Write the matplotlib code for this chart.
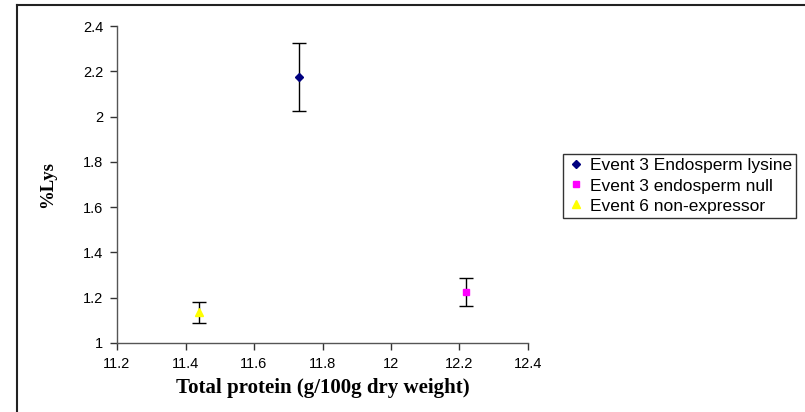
import matplotlib
matplotlib.use("Agg")
import matplotlib.pyplot as plt
from matplotlib.lines import Line2D

series = ["Event 3 Endosperm lysine", "Event 3 endosperm null", "Event 6 non-expressor"]
protein = [11.73, 12.22, 11.44]
lys = [2.175, 1.225, 1.135]
lys_err = [0.15, 0.062, 0.048]
colors = ["#000080", "#FF00FF", "#FFFF00"]
markers = ["D", "s", "^"]
msizes = [4.5, 5, 6]
xticks = [11.2, 11.4, 11.6, 11.8, 12, 12.2, 12.4]
yticks = [1, 1.2, 1.4, 1.6, 1.8, 2, 2.2, 2.4]

fig = plt.figure(figsize=(8.05, 4.12), dpi=100)
ax = fig.add_axes([117/805, 1-343/412, (528-117)/805, (343-26)/412])

for x, y, e, c, m, s, lab in zip(protein, lys, lys_err, colors, markers, msizes, series):
    ax.errorbar([x], [y], yerr=[e], fmt='none', ecolor='black', elinewidth=1.0,
                capsize=5, capthick=1.0, zorder=2)
    ax.plot([x], [y], linestyle='none', marker=m, markersize=s, color=c,
            markeredgecolor=c, label=lab, zorder=3)

ax.set_xlim(11.2, 12.4)
ax.set_ylim(1, 2.4)
ax.set_xticks(xticks)
ax.set_yticks(yticks)
ax.set_xticklabels([f"{v:g}" for v in xticks], fontfamily="Liberation Sans", fontsize=10.5)
ax.set_yticklabels([f"{v:g}" for v in yticks], fontfamily="Liberation Sans", fontsize=10.5)
for s in ["top", "right"]:
    ax.spines[s].set_visible(False)
for s in ["left", "bottom"]:
    ax.spines[s].set_color("#555555")
    ax.spines[s].set_linewidth(1.0)
ax.tick_params(direction='out', length=5, width=1, color="#333333", pad=5)

fig.text(323/805, 1-388/412, "Total protein (g/100g dry weight)", ha='center', va='center',
         fontfamily="Liberation Serif", fontweight='bold', fontsize=15)
fig.text(48/805, 1-184/412, "%Lys", ha='center', va='center', rotation=90,
         fontfamily="Liberation Serif", fontweight='bold', fontsize=13.5)

leg = ax.legend(loc='upper left', bbox_to_anchor=(563/805, 1-154/412),
                bbox_transform=fig.transFigure, frameon=True, fancybox=False,
                prop={'family': 'Liberation Sans', 'size': 12.5}, handlelength=1.0,
                handletextpad=0.3, labelspacing=0.28, borderpad=0.25, borderaxespad=0)
leg.get_frame().set_edgecolor('black')
leg.get_frame().set_linewidth(1.0)

# outer chart-area frame (top and left visible)
fig.add_artist(Line2D([17/805, 1.0], [1-5/412, 1-5/412], transform=fig.transFigure,
                      color='#222222', linewidth=1.5))
fig.add_artist(Line2D([17/805, 17/805], [0, 1-5/412], transform=fig.transFigure,
                      color='#222222', linewidth=1.5))

fig.savefig("out.png", dpi=100)
